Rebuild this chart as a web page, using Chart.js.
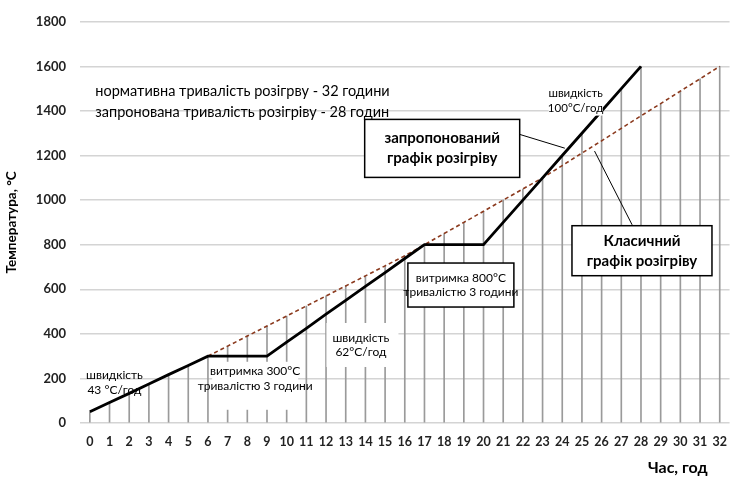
<!DOCTYPE html>
<html><head><meta charset="utf-8">
<script src="https://cdn.jsdelivr.net/npm/chart.js@4/dist/chart.umd.min.js"></script>
<style>html,body{margin:0;padding:0;background:#fff}#wrap{width:738px;height:485px;position:relative}</style>
</head><body><div id="wrap"><canvas id="c"></canvas></div>
<script>
// ---- data ----
const hours = ['0','1','2','3','4','5','6','7','8','9','10','11','12','13','14','15','16','17','18','19','20','21','22','23','24','25','26','27','28','29','30','31','32'];
const yTickValues = [0,200,400,600,800,1000,1200,1400,1600,1800];
// proposed (запропонований) heating schedule
const proposed = [50,92,133,175,217,258,300,300,300,300,363,425,488,550,613,675,738,800,800,800,800,900,1000,1100,1200,1300,1400,1500,1600,null,null,null,null];
// classic (класичний) heating schedule
const classic = [null,null,null,null,null,null,300,345,390,435,480,525,570,615,660,705,750,800,850,900,950,1000,1050,1100,1155,1211,1266,1322,1378,1433,1489,1544,1600];
// hourly drop lines (top of each vertical line)
const dropTops = [50,92,133,175,217,258,300,345,390,435,480,525,570,615,660,705,750,800,850,900,950,1000,1050,1100,1200,1300,1400,1500,1600,1433,1489,1544,1600];

const textNorm = 'нормативна тривалість розігрву - 32 години';
const textProp = 'запронована тривалість розігріву - 28 годин';

// ---- annotations (positions in data units: hour index, temperature) ----
const FONT = 'Lato, "Liberation Sans", sans-serif';
const boxes = [
  {h:17.9, t:1232, w:155, hgt:58, lines:['запропонований','графік розігріву'], font:'bold 15px '+FONT, lh:20, border:true},
  {h:28.05, t:773, w:140, hgt:50, lines:['Класичний','графік розігріву'], font:'bold 15px '+FONT, lh:20, border:true},
  {h:18.85, t:619, w:106, hgt:44, lines:['витримка 800°C','тривалістю 3 години'], font:'12px '+FONT, lh:13.5, border:true}
];
const whiteRects = [
  {h:8.4, t:167, w:86, hgt:48},
  {h:13.85, t:350, w:72, hgt:44},
  {h:24.68, t:1406, w:54, hgt:12}
];
const labels = [
  {h:8.4, t:198, lines:['витримка 300°C','тривалістю 3 години'], font:'12px '+FONT, lh:15.5, align:'center'},
  {h:13.77, t:350, lines:['швидкість','62°C/год'], font:'12px '+FONT, lh:14.5, align:'center'},
  {h:1.25, t:181, lines:['швидкість','43 °C/год'], font:'12px '+FONT, lh:14.5, align:'center'},
  {h:24.68, t:1446, lines:['швидкість','100°C/год'], font:'11.5px '+FONT, lh:14.5, align:'center'},
  {h:0.28, t:1440, lines:[textNorm, textProp], font:'14.5px '+FONT, lh:20.5, align:'left'}
];
const leaders = [
  {from:[21.83,1295], to:[24.13,1233]},
  {from:[25.64,1220], to:[27.55,889]}
];

const annotPlugin = {
  id:'annot',
  afterDatasetsDraw(chart){
    const {ctx, scales:{x, y}, chartArea} = chart;
    const X = v => x.getPixelForValue(v), Y = v => y.getPixelForValue(v);
    ctx.save();
    ctx.fillStyle = '#fff';
    whiteRects.forEach(r => ctx.fillRect(X(r.h)-r.w/2, Y(r.t)-r.hgt/2, r.w, r.hgt));
    ctx.strokeStyle = '#000'; ctx.lineWidth = 1;
    leaders.forEach(l => { ctx.beginPath(); ctx.moveTo(X(l.from[0]), Y(l.from[1])); ctx.lineTo(X(l.to[0]), Y(l.to[1])); ctx.stroke(); });
    boxes.forEach(b => {
      const cx = X(b.h), cy = Y(b.t);
      ctx.fillStyle = '#fff';
      ctx.fillRect(cx-b.w/2, cy-b.hgt/2, b.w, b.hgt);
      ctx.strokeStyle = '#000'; ctx.lineWidth = 1.5;
      ctx.strokeRect(cx-b.w/2, cy-b.hgt/2, b.w, b.hgt);
      ctx.fillStyle = '#000'; ctx.font = b.font; ctx.textAlign = 'center'; ctx.textBaseline = 'middle';
      const n = b.lines.length;
      b.lines.forEach((s,i) => ctx.fillText(s, cx, cy + (i-(n-1)/2)*b.lh));
    });
    labels.forEach(l => {
      const cx = X(l.h), cy = Y(l.t);
      ctx.fillStyle = '#000'; ctx.font = l.font; ctx.textAlign = l.align; ctx.textBaseline = 'middle';
      const n = l.lines.length;
      l.lines.forEach((s,i) => ctx.fillText(s, cx, cy + (i-(n-1)/2)*l.lh));
    });
    ctx.font = 'bold 16px ' + FONT; ctx.textAlign = 'right'; ctx.textBaseline = 'middle'; ctx.fillStyle = '#000';
    ctx.fillText('Час, год', chartArea.right - 22, 468);
    ctx.restore();
  }
};

new Chart(document.getElementById('c'), {
  data: {
    labels: hours,
    datasets: [
      {type:'line', label:'запропонований графік розігріву', data: proposed, borderColor:'#000', borderWidth:2.8, pointRadius:0, fill:false, tension:0, order:1},
      {type:'line', label:'класичний графік розігріву', data: classic, borderColor:'#8b3a1e', borderWidth:1.6, borderDash:[4,3], pointRadius:0, fill:false, tension:0, order:2},
      {type:'bar', label:'год', data: dropTops.map(v => [0, v]), backgroundColor:'#9a9a9a', barThickness:1, order:3}
    ]
  },
  options: {
    responsive:true, maintainAspectRatio:false, animation:false,
    layout:{padding:{top:15, right:2, left:0, bottom:0}},
    plugins:{legend:{display:false}, tooltip:{enabled:false}},
    scales:{
      x:{
        type:'category', offset:true,
        grid:{display:false, drawTicks:false}, border:{display:false},
        ticks:{font:{family:FONT, size:12.5, weight:'bold'}, color:'#222', padding:11, maxRotation:0, autoSkip:false},
        afterFit(s){ s.height = 62; }
      },
      y:{
        min:0, max:1800,
        afterBuildTicks(s){ s.ticks = yTickValues.map(v => ({value:v})); },
        grid:{color:'#d4d4d4', lineWidth:1.5, drawTicks:false}, border:{display:false},
        ticks:{font:{family:FONT, size:13, weight:'bold'}, color:'#222', padding:14, callback:v => String(v)},
        title:{display:true, text:'Температура, °C', font:{family:FONT, size:13.5, weight:'bold'}, color:'#000', padding:{top:4, bottom:0}},
        afterFit(s){ s.width = 80; }
      }
    }
  },
  plugins:[annotPlugin]
});
</script>
</body></html>
